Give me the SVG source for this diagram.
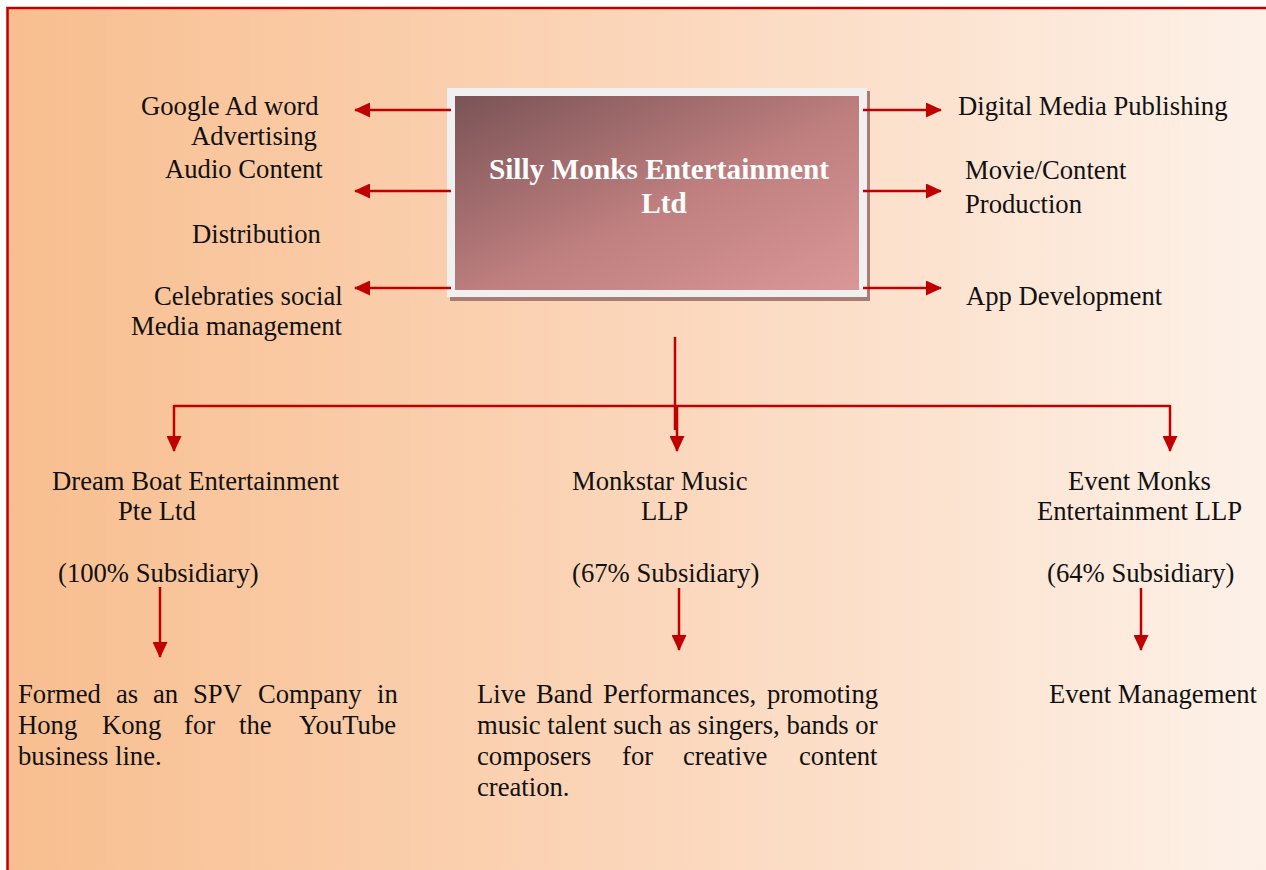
<svg xmlns="http://www.w3.org/2000/svg" width="1266" height="870" viewBox="0 0 1266 870">
  <defs>
    <linearGradient id="bg" x1="0" y1="0" x2="1" y2="0">
      <stop offset="0" stop-color="#F8BE8F"/>
      <stop offset="0.5" stop-color="#FBD6BA"/>
      <stop offset="1" stop-color="#FDF1E8"/>
    </linearGradient>
    <linearGradient id="boxg" x1="0" y1="0" x2="1" y2="1">
      <stop offset="0" stop-color="#7A5356"/>
      <stop offset="0.55" stop-color="#C08080"/>
      <stop offset="1" stop-color="#DA9797"/>
    </linearGradient>
    <marker id="ah" viewBox="0 0 16 15" refX="15" refY="7.5" markerWidth="16" markerHeight="15" markerUnits="userSpaceOnUse" orient="auto">
      <path d="M0,0 L16,7.5 L0,15 Z" fill="#C00000"/>
    </marker>
    <style>
      .t { font-family: "Liberation Serif", "Times New Roman", serif; font-size: 26.67px; fill: #111; }
      .h { font-family: "Liberation Serif", "Times New Roman", serif; font-size: 29.3px; font-weight: bold; fill: #FFFFFF; }
      .c { stroke: #C00000; stroke-width: 2.5; fill: none; }
      .ca { stroke: #C00000; stroke-width: 2.5; fill: none; marker-end: url(#ah); }
    </style>
  </defs>

  <rect x="7.5" y="8" width="1262" height="866" fill="url(#bg)" stroke="#C00000" stroke-width="2.5"/>

  <g id="center">
    <rect x="450" y="91" width="420" height="210" fill="#A97C74"/>
    <rect x="447" y="88" width="420" height="209" fill="#F0F0F0"/>
    <rect x="455" y="96" width="404" height="194" fill="url(#boxg)"/>
    <text class="h" x="659" y="179" text-anchor="middle">Silly Monks Entertainment</text>
    <text class="h" x="664" y="213" text-anchor="middle">Ltd</text>
  </g>

  <g id="connectors">
    <line class="ca" x1="451" y1="110" x2="355" y2="110"/>
    <line class="ca" x1="451" y1="191" x2="355" y2="191"/>
    <line class="ca" x1="451" y1="288" x2="355" y2="288"/>
    <line class="ca" x1="863" y1="110" x2="941" y2="110"/>
    <line class="ca" x1="863" y1="191" x2="941" y2="191"/>
    <line class="ca" x1="863" y1="288" x2="941" y2="288"/>
    <line class="c" x1="675" y1="337" x2="675" y2="430"/>
    <line class="c" x1="174" y1="406" x2="1170" y2="406"/>
    <line class="ca" x1="174" y1="405" x2="174" y2="451"/>
    <line class="ca" x1="1170" y1="405" x2="1170" y2="451"/>
    <line class="ca" x1="677" y1="406" x2="677" y2="451"/>
    <line class="ca" x1="160" y1="587" x2="160" y2="657"/>
    <line class="ca" x1="679" y1="588" x2="679" y2="650"/>
    <line class="ca" x1="1141" y1="588" x2="1141" y2="650"/>
  </g>

  <g id="left-labels">
    <text class="t" x="141" y="115">Google Ad word</text>
    <text class="t" x="191" y="145">Advertising</text>
    <text class="t" x="165" y="178">Audio Content</text>
    <text class="t" x="192" y="243">Distribution</text>
    <text class="t" x="154" y="305">Celebraties social</text>
    <text class="t" x="131" y="335">Media management</text>
  </g>

  <g id="right-labels">
    <text class="t" x="958" y="115">Digital Media Publishing</text>
    <text class="t" x="965" y="179">Movie/Content</text>
    <text class="t" x="965" y="213">Production</text>
    <text class="t" x="966" y="305">App Development</text>
  </g>

  <g id="dreamboat">
    <text class="t" x="52" y="490">Dream Boat Entertainment</text>
    <text class="t" x="118" y="520">Pte Ltd</text>
    <text class="t" x="58" y="582">(100% Subsidiary)</text>
    <text class="t" y="703"><tspan x="18">Formed</tspan><tspan x="116">as</tspan><tspan x="153">an</tspan><tspan x="193">SPV</tspan><tspan x="258">Company</tspan><tspan x="377">in</tspan></text>
    <text class="t" y="734"><tspan x="18">Hong</tspan><tspan x="102">Kong</tspan><tspan x="184">for</tspan><tspan x="239">the</tspan><tspan x="299">YouTube</tspan></text>
    <text class="t" x="18" y="765">business line.</text>
  </g>

  <g id="monkstar">
    <text class="t" x="572" y="490">Monkstar Music</text>
    <text class="t" x="641" y="520">LLP</text>
    <text class="t" x="572" y="582">(67% Subsidiary)</text>
    <text class="t" y="703"><tspan x="477">Live</tspan><tspan x="536">Band</tspan><tspan x="603">Performances,</tspan><tspan x="767">promoting</tspan></text>
    <text class="t" x="477" y="734">music talent such as singers, bands or</text>
    <text class="t" y="765"><tspan x="477">composers</tspan><tspan x="622">for</tspan><tspan x="683">creative</tspan><tspan x="799">content</tspan></text>
    <text class="t" x="477" y="796">creation.</text>
  </g>

  <g id="eventmonks">
    <text class="t" x="1068" y="490">Event Monks</text>
    <text class="t" x="1037" y="520">Entertainment LLP</text>
    <text class="t" x="1047" y="582">(64% Subsidiary)</text>
    <text class="t" x="1049" y="703">Event Management</text>
  </g>
</svg>
